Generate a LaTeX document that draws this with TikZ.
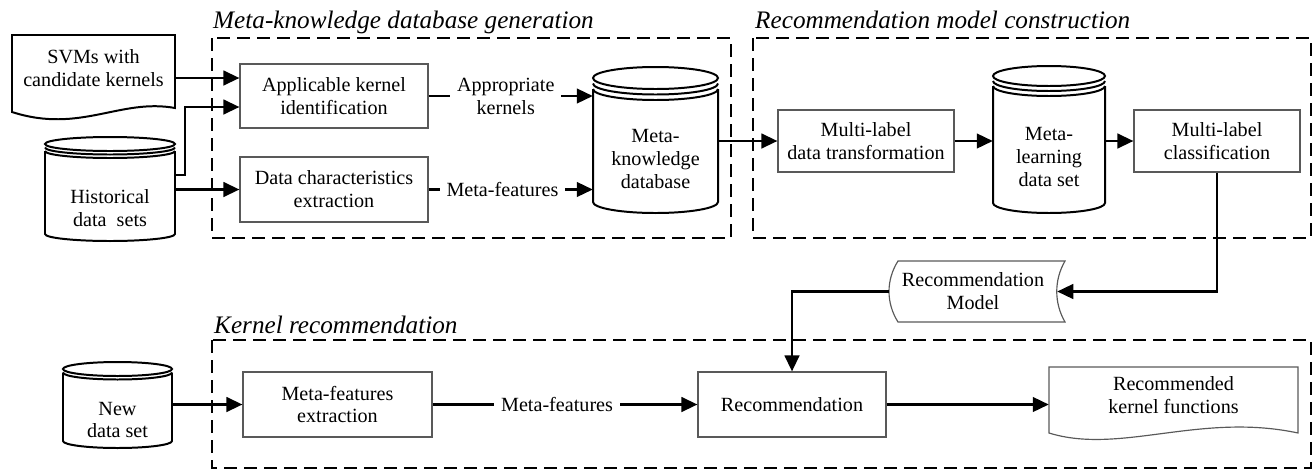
\documentclass[tikz,border=0pt]{standalone}
\usepackage{fontspec}
\setmainfont{Liberation Serif}
\usetikzlibrary{arrows.meta}

% database cylinder: name, x, top y, bottom y, rx, ry, rims, text y, text
\newcommand{\dbcyl}[9]{%
  \draw[cyl] (#2-#5,{#3-#7*0.5*#6}) -- (#2-#5,#4)
    arc[start angle=180, end angle=360, x radius=#5, y radius=#6] -- (#2+#5,{#3-#7*0.5*#6});
  \draw[cyl] (#2,#3) ellipse[x radius=#5, y radius=#6];
  \foreach \k in {1,...,#7}
    \draw[cyl] (#2-#5,{#3-\k*0.5*#6}) arc[start angle=180, end angle=360, x radius=#5, y radius=#6];
  \node[minimum width={#5*0.06cm}, minimum height={(#3-(#4))*0.03cm}, inner sep=0pt] (#1) at (#2,{(#3+(#4))/2}) {};
  \node[txt] (#1-txt) at (#2,#8) {#9};
}

\begin{document}
\begin{tikzpicture}[x=0.03cm, y=0.03cm, >={Triangle[length=0.48cm, width=0.44cm]},
    txt/.style={align=center, inner sep=0pt, font=\fontsize{17.2}{19.6}\selectfont},
    box/.style={txt, draw=black!65, line width=1pt, minimum width=5.64cm, minimum height=1.92cm},
    cyl/.style={line width=1.7pt},
    flow/.style={line width=2pt, ->},
    lbl/.style={txt, fill=white, inner xsep=0.2cm, inner ysep=1pt},
    grp/.style={line width=2pt, dash pattern=on 0.39cm off 0.21cm},
    grplbl/.style={anchor=base west, inner sep=0pt, font=\fontsize{21.5}{24}\selectfont\itshape}]
    \useasboundingbox (0,0) rectangle (1313,-469);
    % group frames
    \draw[grp] (212,-38) rectangle (731,-238);
    \draw[grp] (753,-38) rectangle (1311,-238);
    \draw[grp] (212,-340) rectangle (1311,-468);
    \node[grplbl] (g1lbl) at (213,-28) {Meta-knowledge database generation};
    \node[grplbl] (g2lbl) at (755,-28) {Recommendation model construction};
    \node[grplbl] (g3lbl) at (214,-333) {Kernel recommendation};
    % inputs
    \draw[line width=1.7pt] (12,-35) -- (175,-35) -- (175,-108)
        .. controls (120,-98) and (80,-134) .. (12,-112) -- cycle;
    \node[txt, minimum width=4.89cm, minimum height=1.98cm] (svm) at (93.5,-68) {SVMs with\\candidate kernels};
    \dbcyl{hist}{110}{-144}{-234}{65}{7}{2}{-208}{Historical\\data\ \ sets}
    \dbcyl{newds}{117.5}{-369}{-441}{54.5}{7}{1}{-420}{New\\data set}
    % boxes
    \node[box] (aki) at (334,-96) {Applicable kernel\\identification};
    \node[box, minimum height=1.95cm] (dce) at (334,-189.5) {Data characteristics\\extraction};
    \dbcyl{mkdb}{655.5}{-78}{-202}{62.5}{11}{2}{-159}{Meta-\\knowledge\\database}
    \node[box, minimum width=5.28cm, minimum height=1.86cm] (mldt) at (866,-141) {Multi-label\\data transformation};
    \dbcyl{mlds}{1049}{-76}{-203}{56}{10}{2}{-157}{Meta-\\learning\\data set}
    \node[box, minimum width=4.98cm, minimum height=1.86cm] (mlc) at (1217,-141) {Multi-label\\classification};
    % model
    \draw[draw=black!65, line width=1pt] (898,-261) -- (1065,-261)
        .. controls (1054,-280) and (1054,-303) .. (1065,-322) -- (898,-322)
        .. controls (886,-303) and (886,-280) .. (898,-261) -- cycle;
    \node[txt, minimum width=5.04cm, minimum height=1.83cm] (recmodel) at (973,-291.5) {Recommendation\\Model};
    \node[box, minimum width=5.67cm, minimum height=1.95cm] (mfe) at (337.5,-404.5) {Meta-features\\extraction};
    \node[box, minimum height=1.95cm] (rec) at (792,-404.5) {Recommendation};
    \draw[draw=black!65, line width=1pt] (1049,-367) -- (1298,-367) -- (1298,-433)
        .. controls (1200,-412) and (1120,-455) .. (1049,-433) -- cycle;
    \node[txt, minimum width=7.47cm, minimum height=1.68cm] (rkf) at (1173.5,-395) {Recommended\\kernel functions};
    % connectors
    \draw[flow] ([yshift=-0.3cm]svm.east) -- ([yshift=-0.3cm]svm.east -| aki.west);
    \draw[flow] ([yshift=0.42cm]hist.east) -- ++(10,0) |- ([yshift=-0.33cm]aki.west);
    \draw[flow] (hist.east |- dce.west) -- (dce.west);
    \draw[flow] (aki.east) -- (aki.east -| mkdb.west) node[lbl, pos=0.47] {Appropriate\\kernels};
    \draw[flow] (dce.east) -- (dce.east -| mkdb.west) node[lbl, pos=0.45] {Meta-features};
    \draw[flow] (mkdb.east |- mldt.west) -- (mldt.west);
    \draw[flow] (mldt.east) -- (mldt.east -| mlds.west);
    \draw[flow] (mlds.east |- mlc.west) -- (mlc.west);
    \draw[flow] (mlc.south) |- (recmodel.east);
    \draw[flow] (recmodel.west) -| (rec.north);
    \draw[flow] (newds.east |- mfe.west) -- (mfe.west);
    \draw[flow] (mfe) -- (rec) node[lbl, pos=0.47] {Meta-features};
    \draw[flow] (rec.east) -- (rec.east -| rkf.west);
\end{tikzpicture}
\end{document}
